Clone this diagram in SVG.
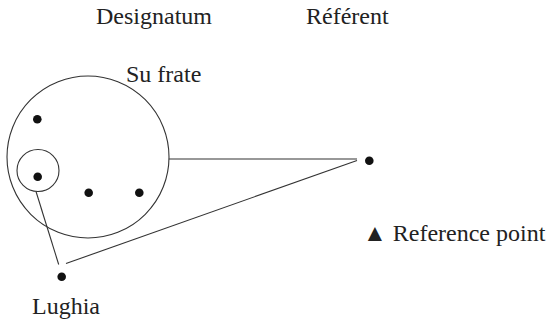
<svg xmlns="http://www.w3.org/2000/svg" width="551" height="321" viewBox="0 0 551 321">
<rect width="551" height="321" fill="#fff"/>
<g id="labels">
<text x="96" y="24" font-family="'Liberation Serif', 'Times New Roman', serif" font-size="24" fill="#222">Designatum</text>
<text x="306" y="24" font-family="'Liberation Serif', 'Times New Roman', serif" font-size="24" fill="#222">R&#233;f&#233;rent</text>
</g>
<g id="connectors" stroke="#333" stroke-width="1.1" fill="none">
<line x1="169" y1="159" x2="357" y2="159"/>
<line x1="66" y1="263.5" x2="357" y2="160.5"/>
<line x1="36" y1="191.5" x2="58.7" y2="264.5"/>
</g>
<g id="su-frate">
<circle cx="88" cy="157" r="81" stroke="#333" stroke-width="1.1" fill="none"/>
<text x="126" y="82" font-family="'Liberation Serif', 'Times New Roman', serif" font-size="24" fill="#222">Su frate</text>
<g fill="#111">
<circle cx="37.3" cy="119.3" r="4.3"/>
<circle cx="88.7" cy="192.7" r="4.3"/>
<circle cx="139.3" cy="192.7" r="4.3"/>
</g>
</g>
<g id="inner">
<circle cx="38" cy="170.5" r="21" stroke="#333" stroke-width="1.1" fill="none"/>
<circle cx="37.7" cy="176.7" r="4.3" fill="#111"/>
</g>
<g id="referent">
<circle cx="369.3" cy="160.7" r="4.3" fill="#111"/>
</g>
<g id="reference-point">
<text x="363" y="241" font-family="'Liberation Serif', 'Times New Roman', serif" font-size="24" fill="#222">&#9650; Reference point</text>
</g>
<g id="lughia">
<circle cx="61.7" cy="276.7" r="4.3" fill="#111"/>
<text x="32" y="314" font-family="'Liberation Serif', 'Times New Roman', serif" font-size="24" fill="#222">Lughia</text>
</g>
</svg>
